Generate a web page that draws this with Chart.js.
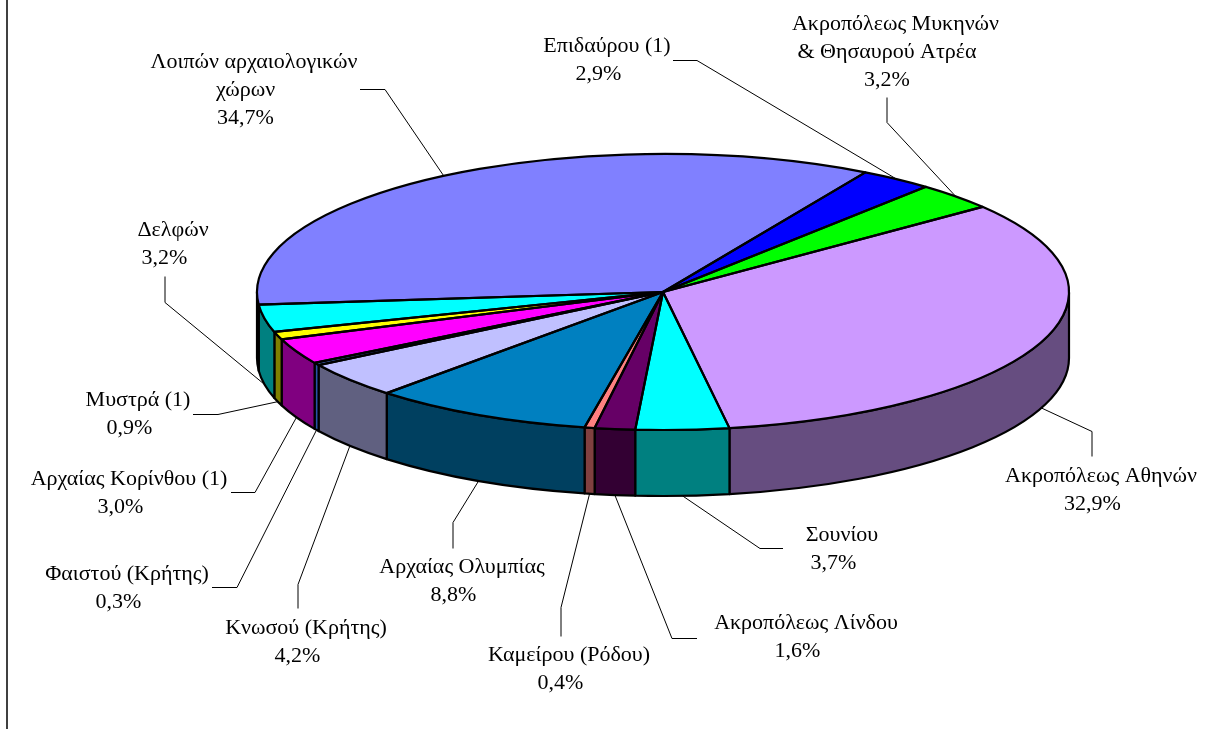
<!DOCTYPE html>
<html>
<head>
<meta charset="utf-8">
<title>Pie</title>
<script src="https://cdn.jsdelivr.net/npm/chart.js@4"></script>
<style>
    html, body { margin: 0; padding: 0; background: #fff; overflow: hidden; }
    #frameLine { position: absolute; left: 6px; top: 0; width: 2px; height: 729px; background: #404040; }
    #pieChart { position: absolute; left: 0; top: 0; }
</style>
</head>
<body>
<div id="frameLine"></div>
<canvas id="pieChart" width="1205" height="729"></canvas>
<script>
// data, clockwise from the first slice
const categories = [
    "Ακροπόλεως Αθηνών",
    "Σουνίου",
    "Ακροπόλεως Λίνδου",
    "Καμείρου (Ρόδου)",
    "Αρχαίας Ολυμπίας",
    "Κνωσού (Κρήτης)",
    "Φαιστού (Κρήτης)",
    "Αρχαίας Κορίνθου (1)",
    "Μυστρά (1)",
    "Δελφών",
    "Λοιπών αρχαιολογικών\nχώρων",
    "Επιδαύρου (1)",
    "Ακροπόλεως Μυκηνών\n& Θησαυρού Ατρέα"
];
const shares = [32.9, 3.7, 1.6, 0.4, 8.8, 4.2, 0.3, 3.0, 0.9, 3.2, 34.7, 2.9, 3.2];
const topColors = ["#CC99FF", "#00FFFF", "#660066", "#FF8080", "#0080C0", "#C0C0FF", "#5588FF",
    "#FF00FF", "#FFFF00", "#00FFFF", "#8080FF", "#0000FF", "#00FF00"];
const sideColors = ["#664D80", "#008080", "#330033", "#804040", "#004060", "#606080", "#2A52A8",
    "#800080", "#808000", "#008080", "#404080", "#000080", "#008000"];

// label block: centre x of first line, y of first line, then the leader's bend points starting at the label
const labelPlaces = [
    { x: 1101, y: 476, bends: [[1092, 456], [1092, 431]] },
    { x: 842, y: 535, bends: [[783, 548], [760, 548]] },
    { x: 806, y: 623, bends: [[697, 638], [672, 638]] },
    { x: 569, y: 655, bends: [[561, 636], [561, 607]] },
    { x: 462, y: 567, bends: [[453, 548], [453, 522]] },
    { x: 306, y: 628, bends: [[298, 608], [298, 584]] },
    { x: 127, y: 574, bends: [[212, 587], [237, 587]] },
    { x: 129, y: 479, bends: [[231, 492], [255, 492]] },
    { x: 138, y: 400, bends: [[193, 414], [218, 414]] },
    { x: 173, y: 230, bends: [[165, 276], [165, 302]] },
    { x: 254, y: 62, bends: [[360, 89], [385, 89]] },
    { x: 607, y: 46, bends: [[673, 60], [697, 60]] },
    { x: 895.5, y: 24, bends: [[887, 97], [887, 122]] }
];

const pieRadius = 406;
const squash = 138 / 406;
const wallDepth = 66;
const startAngle = 51.9;
const lineHeight = 28.3;
const lowerLineShift = 8.5; // lines after the first sit a bit to the left in the original
const rimWidth = 2.2;

function midPoint(arc) {
    // where the leader touches the slice, on the lower rim if the slice faces us
    let mid = (arc.startAngle + arc.endAngle) / 2;
    let x = arc.x + arc.outerRadius * Math.cos(mid);
    let y = arc.y + arc.outerRadius * squash * Math.sin(mid);
    if (Math.sin(mid) > 0) {
        y += wallDepth;
    }
    return [x, y];
}

const pie3d = {
    id: "pie3d",
    beforeDatasetsDraw(chart) {
        const ctx = chart.ctx;
        const arcs = chart.getDatasetMeta(0).data;

        // side walls
        ctx.save();
        ctx.lineWidth = rimWidth;
        ctx.lineJoin = "round";
        ctx.strokeStyle = "#000";
        arcs.forEach((arc, i) => {
            let s = Math.max(arc.startAngle, 0);
            let e = Math.min(arc.endAngle, Math.PI);
            if (e <= s) return;
            let rx = arc.outerRadius;
            let ry = rx * squash;
            ctx.beginPath();
            ctx.ellipse(arc.x, arc.y, rx, ry, 0, s, e);
            ctx.ellipse(arc.x, arc.y + wallDepth, rx, ry, 0, e, s, true);
            ctx.closePath();
            ctx.fillStyle = sideColors[i];
            ctx.fill();
            ctx.stroke();
        });
        ctx.restore();

        // flatten the library's pie
        let cx = arcs[0].x;
        let cy = arcs[0].y;
        ctx.save();
        ctx.translate(cx, cy);
        ctx.scale(1, squash);
        ctx.translate(-cx, -cy);
    },
    afterDatasetsDraw(chart) {
        const ctx = chart.ctx;
        const arcs = chart.getDatasetMeta(0).data;
        ctx.restore();

        // slice outlines, stroked here so the pen stays round
        ctx.save();
        ctx.lineWidth = rimWidth;
        ctx.lineJoin = "round";
        ctx.strokeStyle = "#000";
        arcs.forEach((arc) => {
            ctx.beginPath();
            ctx.moveTo(arc.x, arc.y);
            ctx.ellipse(arc.x, arc.y, arc.outerRadius, arc.outerRadius * squash, 0, arc.startAngle, arc.endAngle);
            ctx.closePath();
            ctx.stroke();
        });

        // leaders
        ctx.lineWidth = 1;
        arcs.forEach((arc, i) => {
            let bends = labelPlaces[i].bends;
            let end = midPoint(arc);
            ctx.beginPath();
            ctx.moveTo(bends[0][0], bends[0][1] + 0.5);
            ctx.lineTo(bends[1][0], bends[1][1] + 0.5);
            ctx.lineTo(end[0], end[1]);
            ctx.stroke();
        });

        // labels
        ctx.fillStyle = "#000";
        ctx.font = '22px "Liberation Serif"';
        ctx.textAlign = "center";
        ctx.textBaseline = "middle";
        categories.forEach((name, i) => {
            let lines = name.split("\n");
            lines.push(shares[i].toFixed(1).replace(".", ",") + "%");
            lines.forEach((line, n) => {
                let x = labelPlaces[i].x - (n > 0 ? lowerLineShift : 0);
                ctx.fillText(line, x, labelPlaces[i].y + n * lineHeight);
            });
        });
        ctx.restore();
    }
};

window.addEventListener("load", () => {
    new Chart(document.getElementById("pieChart").getContext("2d"), {
        type: "pie",
        data: {
            labels: categories,
            datasets: [{
                data: shares,
                backgroundColor: topColors,
                borderWidth: 0,
                clip: false
            }]
        },
        options: {
            responsive: false,
            animation: false,
            rotation: startAngle,
            radius: pieRadius,
            layout: { padding: { left: 121, right: 0, top: 0, bottom: 145 } },
            plugins: {
                legend: { display: false },
                tooltip: { enabled: false }
            }
        },
        plugins: [pie3d]
    });
});
</script>
</body>
</html>
